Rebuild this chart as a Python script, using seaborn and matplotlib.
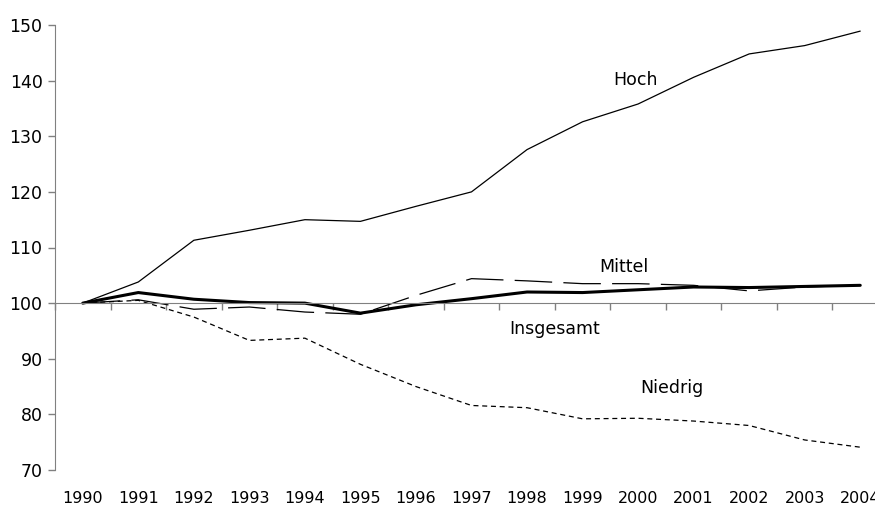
import numpy as np
import pandas as pd
import seaborn as sns
import matplotlib.pyplot as plt
from matplotlib.ticker import FixedLocator

years = ['1990', '1991', '1992', '1993', '1994', '1995', '1996', '1997',
         '1998', '1999', '2000', '2001', '2002', '2003', '2004']
hoch = [100, 103.8, 111.3, 113.1, 115.0, 114.7, 117.4, 120.0,
        127.6, 132.6, 135.8, 140.6, 144.8, 146.3, 148.9]
mittel = [100, 100.6, 98.9, 99.3, 98.4, 98.0, 101.4, 104.4,
          104.0, 103.5, 103.5, 103.2, 102.2, 102.9, 103.2]
insgesamt = [100, 101.9, 100.7, 100.1, 100.0, 98.2, 99.7, 100.8,
             102.0, 101.9, 102.4, 102.9, 102.8, 103.0, 103.2]
niedrig = [100, 100.5, 97.5, 93.3, 93.7, 89.0, 85.0, 81.6,
           81.2, 79.2, 79.3, 78.8, 78.0, 75.4, 74.1]

# position der beschriftungen (jahr-index, wert)
label_names = ['Hoch', 'Mittel', 'Insgesamt', 'Niedrig']
label_x = [9.95, 9.75, 8.5, 10.6]
label_y = [140.2, 106.5, 95.4, 84.8]

sns.set_style('white')
plt.rcParams['font.family'] = ['DejaVu Sans']
plt.rcParams['text.color'] = 'black'

fig = plt.figure(figsize=(8.75, 5.08), dpi=100)
ax = fig.add_axes([55 / 875, 38 / 508, (888 - 55) / 875, (483 - 38) / 508])

idx = np.arange(len(years))
df = pd.DataFrame({'idx': idx, 'Hoch': hoch, 'Mittel': mittel,
                   'Insgesamt': insgesamt, 'Niedrig': niedrig})

sns.lineplot(data=df, x='idx', y='Hoch', ax=ax, color='black', linewidth=0.9)
sns.lineplot(data=df, x='idx', y='Mittel', ax=ax, color='black', linewidth=0.9)
ax.lines[-1].set_dashes((30, 9))
sns.lineplot(data=df, x='idx', y='Niedrig', ax=ax, color='black', linewidth=0.9)
ax.lines[-1].set_dashes((4, 3))
sns.lineplot(data=df, x='idx', y='Insgesamt', ax=ax, color='black', linewidth=2.2)

for name, lx, ly in zip(label_names, label_x, label_y):
    ax.text(lx, ly, name, ha='center', va='center', fontsize=12.5, color='black')

ax.set_xlim(-0.5, len(years) - 0.5)
ax.set_ylim(70, 150)
ax.set_yticks(np.arange(70, 151, 10))
ax.tick_params(axis='y', direction='out', length=5, width=1, color='#808080',
               labelsize=12.5, labelcolor='black', pad=4, left=True)

# x-achse bei 100, striche zwischen den kategorien
ax.spines['bottom'].set_position(('data', 100))
ax.spines['bottom'].set_color('#808080')
ax.spines['left'].set_color('#808080')
ax.spines['top'].set_visible(False)
ax.spines['right'].set_visible(False)
ax.set_xticks(idx)
ax.set_xticklabels([])
ax.xaxis.set_minor_locator(FixedLocator(np.arange(-0.5, len(years), 1)))
ax.tick_params(axis='x', which='major', length=0)
ax.tick_params(axis='x', which='minor', direction='out', length=5, width=1,
               color='#808080', bottom=True)

sec = ax.secondary_xaxis('bottom')
sec.spines['bottom'].set_visible(False)
sec.set_xticks(idx)
sec.set_xticklabels(years)
sec.tick_params(length=0, labelsize=11.5, labelcolor='black', pad=15)

ax.set_xlabel('')
ax.set_ylabel('')
plt.savefig('out.png', dpi=100)
